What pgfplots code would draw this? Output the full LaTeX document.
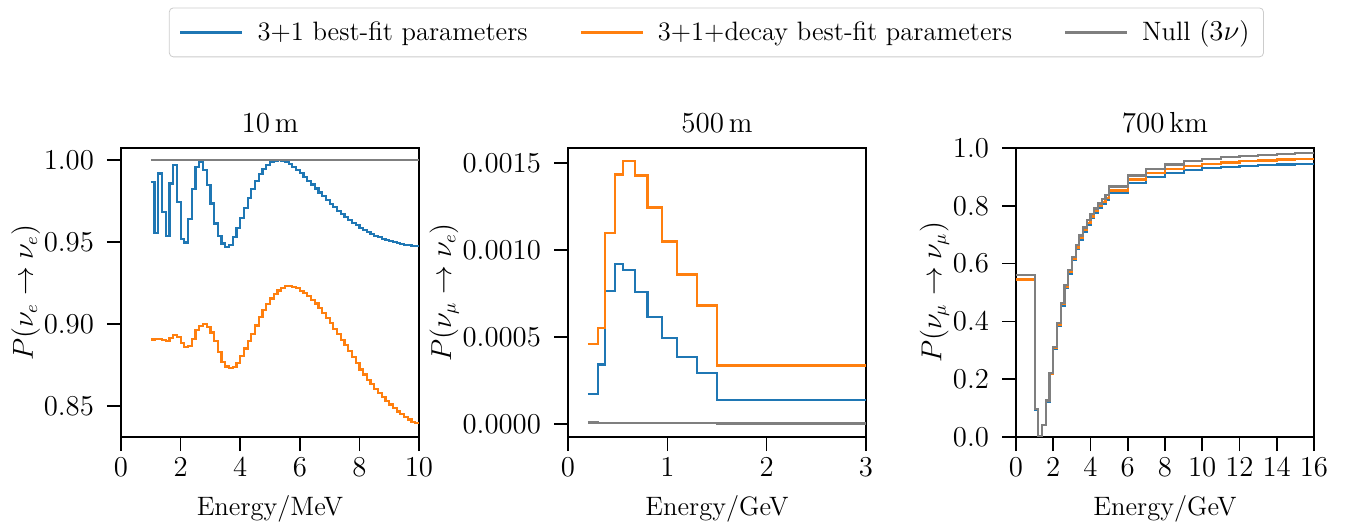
\documentclass[border=0pt]{standalone}
\usepackage{pgfplots}
\pgfplotsset{compat=1.18}
\definecolor{cA}{HTML}{1F77B4}
\definecolor{cB}{HTML}{FF7F0E}
\definecolor{cC}{HTML}{7F7F7F}
\pgfplotsset{
  every axis title shift=0pt,
  myax/.style={
    scale only axis, width=149pt, height=144.5pt,
    axis line style={line width=0.8pt, black},
    tick pos=left, tick align=outside,
    major tick length=7pt,
    every tick/.style={black, line width=0.8pt},
    font=\fontsize{13.3}{16}\selectfont,
    ticklabel style={font=\fontsize{13.3}{16}\selectfont},
    yticklabel style={xshift=-3pt},
    title style={font=\fontsize{14.5}{17}\selectfont, at={(axis description cs:0.5,1.0865)}, anchor=center},
    xlabel style={at={(axis description cs:0.5,-0.25)}, anchor=center},
    ylabel style={yshift=-5pt},
    const plot mark left,
    every axis plot/.append style={line width=1.1pt, mark=none},
  }
}
\begin{document}
\begin{tikzpicture}[x=1pt,y=1pt]
\path[use as bounding box] (0,0) rectangle (677,262.5);
% ---------- panel 1 ----------
\begin{axis}[myax, at={(60.5pt,44pt)}, anchor=south west,
  xmin=0, xmax=10, ymin=0.8312, ymax=1.0075,
  xtick={0,2,4,6,8,10}, ytick={0.85,0.9,0.95,1.0},
  yticklabel style={/pgf/number format/.cd,fixed,fixed zerofill,precision=2},
  title={10\,m}, xlabel={Energy/MeV}, ylabel={$P(\nu_e\rightarrow\nu_e)$}]
\addplot[cA] coordinates {
(1.000,0.9868) (1.125,0.9557) (1.250,0.9919) (1.375,0.9685) (1.500,0.9537)
(1.625,0.9858) (1.750,0.9970) (1.875,0.9746) (2.000,0.9522) (2.125,0.9498)
(2.250,0.9644) (2.375,0.9827) (2.500,0.9959) (2.625,0.9990) (2.750,0.9943)
(2.875,0.9848) (3.000,0.9736) (3.125,0.9614) (3.250,0.9537) (3.375,0.9492)
(3.500,0.9471) (3.625,0.9482) (3.750,0.9532) (3.875,0.9586) (4.000,0.9647)
(4.125,0.9710) (4.250,0.9771) (4.375,0.9827) (4.500,0.9876) (4.625,0.9916)
(4.750,0.9949) (4.875,0.9973) (5.000,0.9989) (5.125,0.9998) (5.250,1.0000)
(5.375,0.9996) (5.500,0.9988) (5.625,0.9976) (5.750,0.9960) (5.875,0.9941)
(6.000,0.9921) (6.125,0.9899) (6.250,0.9876) (6.375,0.9852) (6.500,0.9828)
(6.625,0.9804) (6.750,0.9781) (6.875,0.9758) (7.000,0.9735) (7.125,0.9713)
(7.250,0.9693) (7.375,0.9673) (7.500,0.9654) (7.625,0.9636) (7.750,0.9619)
(7.875,0.9603) (8.000,0.9589) (8.125,0.9575) (8.250,0.9563) (8.375,0.9551)
(8.500,0.9540) (8.625,0.9531) (8.750,0.9522) (8.875,0.9514) (9.000,0.9507)
(9.125,0.9500) (9.250,0.9494) (9.375,0.9489) (9.500,0.9485) (9.625,0.9481)
(9.750,0.9478) (9.875,0.9476) (10.000,0.9476)};
\addplot[cB] coordinates {
(1.000,0.8907) (1.125,0.8909) (1.250,0.8910) (1.375,0.8902) (1.500,0.8900)
(1.625,0.8918) (1.750,0.8933) (1.875,0.8920) (2.000,0.8887) (2.125,0.8861)
(2.250,0.8869) (2.375,0.8908) (2.500,0.8963) (2.625,0.8990) (2.750,0.8999)
(2.875,0.8985) (3.000,0.8950) (3.125,0.8896) (3.250,0.8829) (3.375,0.8768)
(3.500,0.8742) (3.625,0.8732) (3.750,0.8737) (3.875,0.8762) (4.000,0.8806)
(4.125,0.8852) (4.250,0.8896) (4.375,0.8940) (4.500,0.8992) (4.625,0.9045)
(4.750,0.9089) (4.875,0.9125) (5.000,0.9157) (5.125,0.9185) (5.250,0.9206)
(5.375,0.9221) (5.500,0.9232) (5.625,0.9233) (5.750,0.9228) (5.875,0.9219)
(6.000,0.9203) (6.125,0.9189) (6.250,0.9170) (6.375,0.9150) (6.500,0.9127)
(6.625,0.9100) (6.750,0.9069) (6.875,0.9036) (7.000,0.9006) (7.125,0.8972)
(7.250,0.8938) (7.375,0.8905) (7.500,0.8875) (7.625,0.8837) (7.750,0.8799)
(7.875,0.8761) (8.000,0.8724) (8.125,0.8693) (8.250,0.8662) (8.375,0.8633)
(8.500,0.8606) (8.625,0.8579) (8.750,0.8555) (8.875,0.8533) (9.000,0.8510)
(9.125,0.8487) (9.250,0.8468) (9.375,0.8452) (9.500,0.8434) (9.625,0.8419)
(9.750,0.8405) (9.875,0.8395) (10.000,0.8395)};
\addplot[cC] coordinates {(1,1.0) (10,1.0)};
\end{axis}
% ---------- panel 2 ----------
\begin{axis}[myax, at={(284pt,44pt)}, anchor=south west,
  xmin=0, xmax=3, ymin=-0.0000756, ymax=0.001588,
  xtick={0,1,2,3}, ytick={0,0.0005,0.001,0.0015}, scaled y ticks=false,
  yticklabel style={/pgf/number format/.cd,fixed,fixed zerofill,precision=4},
  title={500\,m}, xlabel={Energy/GeV}, ylabel={$P(\nu_\mu\rightarrow\nu_e)$},
  legend style={at={(0.498,1.40)}, anchor=center, legend columns=3,
    draw=black!20, rounded corners=2pt, font=\fontsize{13.3}{16}\selectfont,
    inner xsep=5pt, inner ysep=4.5pt,
    /tikz/every even column/.append style={column sep=24pt},
    /tikz/every odd column/.append style={column sep=5pt}},
  legend image code/.code={\draw[#1] (0pt,0pt) -- (31pt,0pt);}]
\addplot[cA] coordinates {
(0.2,0.000170) (0.3,0.000342) (0.375,0.000764) (0.475,0.000918) (0.55,0.000885)
(0.675,0.000757) (0.8,0.000617) (0.95,0.000492) (1.1,0.000383) (1.3,0.000295)
(1.5,0.000138) (3.0,0.000138)};
\addlegendentry{3+1 best-fit parameters}
\addplot[cB] coordinates {
(0.2,0.000458) (0.3,0.000552) (0.375,0.001101) (0.475,0.001436) (0.55,0.001512)
(0.675,0.001430) (0.8,0.001245) (0.95,0.001050) (1.1,0.000860) (1.3,0.000681)
(1.5,0.000336) (3.0,0.000336)};
\addlegendentry{3+1+decay best-fit parameters}
\addplot[cC] coordinates {
(0.2,0.000008) (0.3,0.000006) (0.375,0.000005) (0.475,0.000004) (0.55,0.000004)
(0.675,0.000004) (0.8,0.000004) (0.95,0.000003) (1.1,0.000003) (1.3,0.000003)
(1.5,0.000002) (3.0,0.000002)};
\addlegendentry{Null ($3\nu$)}
\end{axis}
% ---------- panel 3 ----------
\begin{axis}[myax, at={(508pt,44pt)}, anchor=south west,
  xmin=0, xmax=16, ymin=0, ymax=1,
  xtick={0,2,4,6,8,10,12,14,16}, ytick={0,0.2,0.4,0.6,0.8,1.0},
  yticklabel style={/pgf/number format/.cd,fixed,fixed zerofill,precision=1},
  title={700\,km}, xlabel={Energy/GeV}, ylabel={$P(\nu_\mu\rightarrow\nu_\mu)$}]
\addplot[cA] coordinates {
(0,0.543) (1,0.094) (1.2,0.003) (1.4,0.041) (1.6,0.123) (1.8,0.217) (2.0,0.305)
(2.2,0.386) (2.4,0.455) (2.6,0.516) (2.8,0.566) (3.0,0.612) (3.2,0.651) (3.4,0.683)
(3.6,0.711) (3.8,0.735) (4.0,0.757) (4.2,0.775) (4.4,0.792) (4.6,0.806) (4.8,0.819)
(5,0.843) (6,0.880) (7,0.901) (8,0.914) (9,0.924) (10,0.930) (11,0.935) (12,0.938)
(13,0.941) (14,0.943) (15,0.945) (16,0.945)};
\addplot[cB] coordinates {
(0,0.545) (1,0.096) (1.2,0.003) (1.4,0.0415) (1.6,0.125) (1.8,0.220) (2.0,0.308)
(2.2,0.389) (2.4,0.459) (2.6,0.521) (2.8,0.571) (3.0,0.617) (3.2,0.656) (3.4,0.689)
(3.6,0.716) (3.8,0.741) (4.0,0.763) (4.2,0.782) (4.4,0.798) (4.6,0.813) (4.8,0.826)
(5,0.853) (6,0.891) (7,0.913) (8,0.927) (9,0.937) (10,0.944) (11,0.950) (12,0.954)
(13,0.957) (14,0.960) (15,0.962) (16,0.962)};
\addplot[cC] coordinates {
(0,0.561) (1,0.097) (1.2,0.003) (1.4,0.042) (1.6,0.126) (1.8,0.222) (2.0,0.312)
(2.2,0.394) (2.4,0.464) (2.6,0.527) (2.8,0.578) (3.0,0.624) (3.2,0.664) (3.4,0.697)
(3.6,0.725) (3.8,0.750) (4.0,0.772) (4.2,0.791) (4.4,0.808) (4.6,0.823) (4.8,0.836)
(5,0.867) (6,0.905) (7,0.928) (8,0.943) (9,0.954) (10,0.962) (11,0.969) (12,0.973)
(13,0.977) (14,0.980) (15,0.983) (16,0.983)};
\end{axis}
\end{tikzpicture}
\end{document}
